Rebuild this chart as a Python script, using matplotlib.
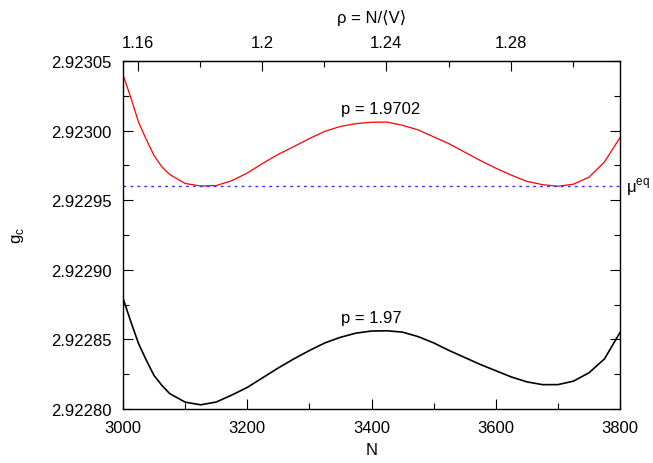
import matplotlib.pyplot as plt
import numpy as np
from matplotlib.ticker import MultipleLocator, FormatStrFormatter

plt.rcParams['font.family'] = ['Liberation Sans', 'DejaVu Sans']

# particle number grid (denser where the curves drop steeply)
N = [3000, 3012.5, 3025, 3037.5, 3050, 3062.5, 3075, 3100, 3125, 3150, 3175,
     3200, 3225, 3250, 3275, 3300, 3325, 3350, 3375, 3400, 3425, 3450,
     3475, 3500, 3525, 3550, 3575, 3600, 3625, 3650, 3675, 3700, 3725,
     3750, 3775, 3800]

# g_c for p = 1.9702 (red)
g_red = [2.923040, 2.9230238, 2.923006, 2.9229935, 2.922982, 2.922974,
         2.9229685, 2.922962, 2.9229602, 2.9229605, 2.922964, 2.9229695,
         2.9229765, 2.922983, 2.9229885, 2.9229943, 2.9229995, 2.923003,
         2.923005, 2.923006, 2.9230061, 2.9230038, 2.9230005, 2.9229955,
         2.9229905, 2.9229845, 2.9229785, 2.922973, 2.922968, 2.9229635,
         2.9229612, 2.922960, 2.9229615, 2.9229665, 2.9229775, 2.922995]

# g_c for p = 1.97 (black)
g_black = [2.9228795, 2.9228628, 2.922847, 2.922835, 2.922824, 2.922817,
           2.9228111, 2.9228049, 2.922803, 2.922805, 2.922810, 2.9228155,
           2.9228225, 2.9228295, 2.922836, 2.922842, 2.9228475, 2.9228515,
           2.9228545, 2.922856, 2.9228562, 2.9228552, 2.922852, 2.9228475,
           2.922842, 2.922837, 2.922832, 2.9228275, 2.922823, 2.9228195,
           2.9228175, 2.9228175, 2.92282, 2.922826, 2.922836, 2.922855]

mu_eq = 2.92296

# top axis: rho = N/<V>, linear in N over this range
rho_ref = 1.16
N_ref = 3024
dN_per_rho = 5000.0


def n_to_rho(n):
    return rho_ref + (np.asarray(n) - N_ref) / dN_per_rho


def rho_to_n(r):
    return N_ref + (np.asarray(r) - rho_ref) * dN_per_rho


fig = plt.figure(figsize=(6.53, 4.64), dpi=100)
ax = fig.add_axes([0.1884, 0.1164, 0.7611, 0.75])

ax.plot(N, g_red, color='red', lw=0.9)
ax.plot(N, g_black, color='black', lw=1.2)
ax.axhline(mu_eq, color='#3333ff', lw=1.0, ls=(0, (2, 3)))

ax.set_xlim(3000, 3800)
ax.set_ylim(2.92280, 2.92305)
ax.xaxis.set_major_locator(MultipleLocator(200))
ax.xaxis.set_minor_locator(MultipleLocator(100))
ax.yaxis.set_major_locator(MultipleLocator(0.00005))
ax.yaxis.set_minor_locator(MultipleLocator(0.000025))
ax.yaxis.set_major_formatter(FormatStrFormatter('%.5f'))
ax.tick_params(which='both', direction='in', right=True, top=False,
               labelsize=12, width=0.8)
ax.tick_params(which='major', length=7, pad=8)
ax.tick_params(which='minor', length=4)
for s in ax.spines.values():
    s.set_linewidth(1.0)

ax.set_xlabel('N', fontsize=12, labelpad=5)
ax.set_ylabel('g$_\\mathregular{c}$', fontsize=12, labelpad=18)

sec = ax.secondary_xaxis('top', functions=(n_to_rho, rho_to_n))
sec.xaxis.set_major_locator(MultipleLocator(0.04))
sec.xaxis.set_minor_locator(MultipleLocator(0.02))
sec.xaxis.set_major_formatter(FormatStrFormatter('%g'))
sec.tick_params(which='both', direction='in', labelsize=12, width=0.8)
sec.tick_params(which='major', length=7, pad=8)
sec.tick_params(which='minor', length=4)
sec.set_xlabel('ρ = N/⟨V⟩', fontsize=12, labelpad=9)

ax.text(3415, 2.9230105, 'p = 1.9702', fontsize=12, ha='center', va='bottom')
ax.text(3400, 2.922860, 'p = 1.97', fontsize=12, ha='center', va='bottom')
ax.text(1.012, mu_eq, 'μ$^\\mathregular{eq}$', transform=ax.get_yaxis_transform(),
        fontsize=12, ha='left', va='center')

fig.savefig('out.png', dpi=100)
